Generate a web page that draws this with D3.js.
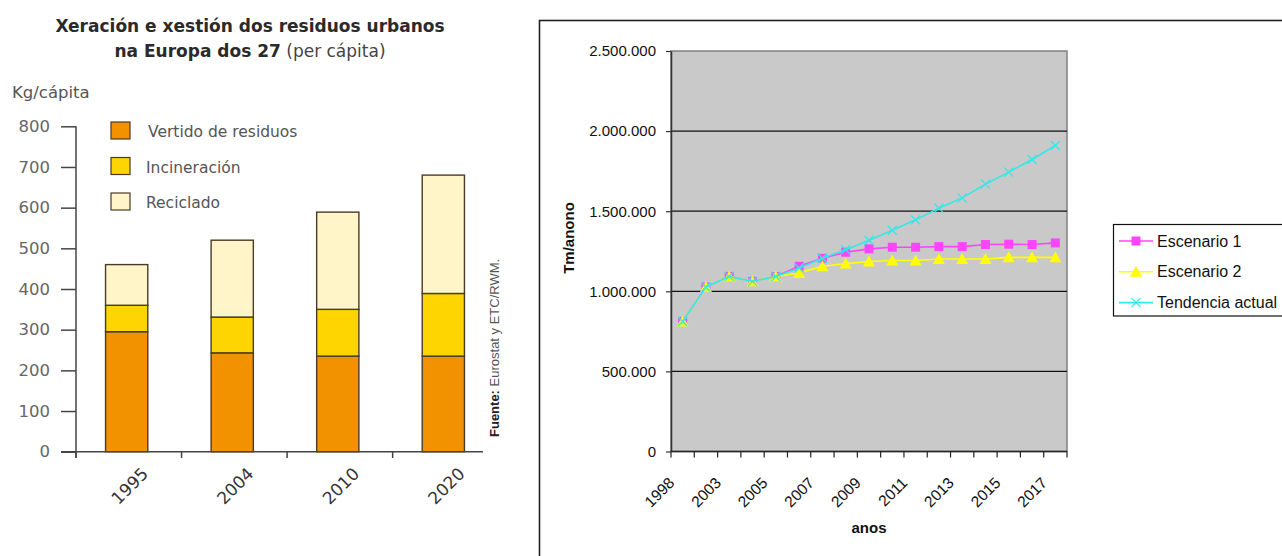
<!DOCTYPE html>
<html><head><meta charset="utf-8">
<script src="https://cdn.jsdelivr.net/npm/d3@7/dist/d3.min.js"></script>
<style>body{margin:0;background:#fff}svg{display:block}</style>
</head><body><svg id="c" width="1282" height="556"></svg>
<script>
// ---- Left chart data ----
const barYears = ["1995","2004","2010","2020"];
const vertido = [295, 243, 235, 235];
const incineracion = [65, 88, 115, 154];
const reciclado = [100, 189, 239, 291];
const barSeriesNames = ["Vertido de residuos","Incineración","Reciclado"];
const barColors = ["#F39200","#FFD500","#FFF5C8"];
const barTicks = [0,100,200,300,400,500,600,700,800];

// ---- Right chart data ----
const categories = ["1998","2002","2003","2004","2005","2006","2007","2008","2009","2010","2011","2012","2013","2014","2015","2016","2017"];
const shownLabels = ["1998","2003","2005","2007","2009","2011","2013","2015","2017"];
const escenario1 = [812000,1027000,1093000,1062000,1092000,1156000,1206000,1244000,1265000,1275000,1275000,1279000,1279000,1292000,1294000,1292000,1302000];
const escenario2 = [812000,1027000,1093000,1062000,1092000,1115000,1156000,1173000,1186000,1192000,1192000,1202000,1202000,1202000,1212000,1212000,1212000];
const tendencia  = [812000,1027000,1093000,1062000,1092000,1145000,1206000,1260000,1319000,1381000,1446000,1519000,1583000,1669000,1744000,1823000,1910000];
const lineSeriesNames = ["Escenario 1","Escenario 2","Tendencia actual"];
const lineColors = ["#FF44FF","#FFFF00","#33E8E8"];
const yTicksR = [0,500000,1000000,1500000,2000000,2500000];

const svg = d3.select("#c");

// ================= LEFT CHART =================
const L = svg.append("g");
const lf = "DejaVu Sans, sans-serif";
L.append("text").attr("x",250).attr("y",32).attr("text-anchor","middle")
 .attr("font-family",lf).attr("font-size",17).attr("font-weight","bold").attr("fill","#2a2a2a")
 .text("Xeración e xestión dos residuos urbanos");
const t2 = L.append("text").attr("x",250).attr("y",57).attr("text-anchor","middle")
 .attr("font-family",lf).attr("font-size",17).attr("fill","#2a2a2a");
t2.append("tspan").attr("font-weight","bold").text("na Europa dos 27");
t2.append("tspan").attr("fill","#444").text(" (per cápita)");
L.append("text").attr("x",12).attr("y",98).attr("font-family",lf).attr("font-size",16.5).attr("fill","#555").text("Kg/cápita");

const yL = d3.scaleLinear().domain([0,800]).range([451.7,126.3]);
const xL = d3.scaleBand().domain(barYears).range([76,494]).paddingInner(0.6).paddingOuter(0.28);

// y axis
const yAxL = L.append("g").attr("transform","translate(76,0)")
 .call(d3.axisLeft(yL).tickValues(barTicks).tickSize(15).tickPadding(11).tickSizeOuter(0));
yAxL.select(".domain").remove();
yAxL.selectAll("line").attr("stroke","#444").attr("stroke-width",1.5);
yAxL.selectAll("text").attr("font-family",lf).attr("font-size",16.5).attr("fill","#666");
L.append("line").attr("x1",76).attr("x2",76).attr("y1",yL(800)).attr("y2",458).attr("stroke","#444").attr("stroke-width",1.5);

// stacked bars
const stackData = barYears.map((y,i)=>({year:y, v:vertido[i], inc:incineracion[i], rec:reciclado[i]}));
const stack = d3.stack().keys(["v","inc","rec"])(stackData);
stack.forEach((s,si)=>{
  L.append("g").selectAll("rect").data(s).join("rect")
   .attr("x",d=>xL(d.data.year)).attr("width",xL.bandwidth())
   .attr("y",d=>yL(d[1])).attr("height",d=>yL(d[0])-yL(d[1]))
   .attr("fill",barColors[si]).attr("stroke","#4a3a28").attr("stroke-width",1.4);
});
// x axis line + ticks
L.append("line").attr("x1",61).attr("x2",483).attr("y1",451.7).attr("y2",451.7).attr("stroke","#444").attr("stroke-width",1.5);
L.append("g").selectAll("line").data(barYears).join("line")
 .attr("x1",(d,i)=>xL.range()[0]+i*xL.step()).attr("x2",(d,i)=>xL.range()[0]+i*xL.step())
 .attr("y1",451.7).attr("y2",458).attr("stroke","#444").attr("stroke-width",1.5);
L.append("g").selectAll("text").data(barYears).join("text")
 .attr("transform",d=>`translate(${xL(d)+xL.bandwidth()/2+3},${486}) rotate(-45)`)
 .attr("text-anchor","middle").attr("dy","0.35em")
 .attr("font-family",lf).attr("font-size",17).attr("fill","#333").text(d=>d);

// legend
barSeriesNames.forEach((n,i)=>{
  const yy = 122 + i*35.5;
  L.append("rect").attr("x",111).attr("y",yy).attr("width",19).attr("height",17)
   .attr("fill",barColors[i]).attr("stroke","#4a3a28").attr("stroke-width",1.2);
  L.append("text").attr("x",i===0?148:146).attr("y",yy+15).attr("font-family",lf).attr("font-size",15.5)
   .attr("fill","#555").text(n);
});
// source
const src = L.append("text").attr("transform","translate(499,437) rotate(-90)")
 .attr("font-family","Liberation Sans, Arial, sans-serif").attr("font-size",13).attr("fill","#555");
src.append("tspan").attr("font-weight","bold").attr("fill","#222").text("Fuente:");
src.append("tspan").text(" Eurostat y ETC/RWM.");

// ================= RIGHT CHART =================
const R = svg.append("g");
const rf = "Liberation Sans, Arial, sans-serif";
R.append("rect").attr("x",539.5).attr("y",20.5).attr("width",745).attr("height",560)
 .attr("fill","#fff").attr("stroke","#222").attr("stroke-width",1.6);

const px0=671, px1=1067, py0=51, py1=451.5;
const xR = d3.scaleBand().domain(categories).range([px0,px1]).padding(0);
const yR = d3.scaleLinear().domain([0,2500000]).range([py1,py0]);
const loc = d3.formatLocale({decimal:",",thousands:".",grouping:[3],currency:["",""]});
const fmt = loc.format(",");

R.append("rect").attr("x",px0).attr("y",py0).attr("width",px1-px0).attr("height",py1-py0)
 .attr("fill","#C9C9C9").attr("stroke","#808080").attr("stroke-width",1.5);
// gridlines
R.append("g").selectAll("line").data(yTicksR.filter(v=>v>0&&v<2500000)).join("line")
 .attr("x1",px0).attr("x2",px1).attr("y1",d=>yR(d)).attr("y2",d=>yR(d))
 .attr("stroke","#111").attr("stroke-width",1.2);

// y axis
const yAxR = R.append("g").attr("transform",`translate(${px0},0)`)
 .call(d3.axisLeft(yR).tickValues(yTicksR).tickFormat(fmt).tickSize(5).tickPadding(10).tickSizeOuter(0));
yAxR.select(".domain").attr("stroke","#333").attr("stroke-width",1.5);
yAxR.selectAll("line").attr("stroke","#333").attr("stroke-width",1.2);
yAxR.selectAll("text").attr("font-family",rf).attr("font-size",15).attr("fill","#111");

// x axis
R.append("line").attr("x1",px0).attr("x2",px1).attr("y1",py1).attr("y2",py1).attr("stroke","#222").attr("stroke-width",1.5);
const bounds = categories.map(c=>xR(c)).concat([px1]);
R.append("g").selectAll("line").data(bounds).join("line")
 .attr("x1",d=>d).attr("x2",d=>d).attr("y1",py1).attr("y2",py1+6).attr("stroke","#222").attr("stroke-width",1.2);
R.append("g").selectAll("text").data(shownLabels).join("text")
 .attr("transform",d=>`translate(${xR(d)+xR.bandwidth()/2-15},${476}) rotate(-45)`)
 .attr("text-anchor","end").attr("dy","0.71em")
 .attr("font-family",rf).attr("font-size",15.5).attr("fill","#111").text(d=>d);

// titles
R.append("text").attr("transform","translate(574,238) rotate(-90)").attr("text-anchor","middle")
 .attr("font-family",rf).attr("font-size",15).attr("font-weight","bold").attr("fill","#111").text("Tm/anono");
R.append("text").attr("x",869).attr("y",533).attr("text-anchor","middle")
 .attr("font-family",rf).attr("font-size",15).attr("font-weight","bold").attr("fill","#111").text("anos");

// series
const seriesVals = [escenario1, escenario2, tendencia];
const cx = c => xR(c)+xR.bandwidth()/2;
const line = d3.line().x((d,i)=>cx(categories[i])).y(d=>yR(d));
function marker(g, type, color, x, y){
  if(type===0){
    g.append("rect").attr("x",x-4.5).attr("y",y-4.5).attr("width",9).attr("height",9).attr("fill",color);
  } else if(type===1){
    g.append("path").attr("d",`M${x},${y-6}L${x+6},${y+5}L${x-6},${y+5}Z`).attr("fill",color);
  } else {
    g.append("path").attr("d",`M${x-4.5},${y-4.5}L${x+4.5},${y+4.5}M${x-4.5},${y+4.5}L${x+4.5},${y-4.5}`)
     .attr("stroke",color).attr("stroke-width",1.3).attr("fill","none");
  }
}
seriesVals.forEach((vals,si)=>{
  const g = R.append("g");
  g.append("path").datum(vals).attr("d",line).attr("fill","none").attr("stroke",lineColors[si]).attr("stroke-width",1.6);
  vals.forEach((v,i)=>marker(g, si, lineColors[si], cx(categories[i]), yR(v)));
});

// legend
R.append("rect").attr("x",1113.5).attr("y",224.5).attr("width",170).attr("height",91.5)
 .attr("fill","#fff").attr("stroke","#111").attr("stroke-width",1.2);
lineSeriesNames.forEach((n,i)=>{
  const yy = 241 + i*30.8;
  const g = R.append("g");
  g.append("line").attr("x1",1119).attr("x2",1153).attr("y1",yy).attr("y2",yy).attr("stroke",lineColors[i]).attr("stroke-width",1.6);
  marker(g, i, lineColors[i], 1136, yy);
  g.append("text").attr("x",1157).attr("y",yy+5.5).attr("font-family",rf).attr("font-size",16).attr("fill","#111").text(n);
});
</script></body></html>
